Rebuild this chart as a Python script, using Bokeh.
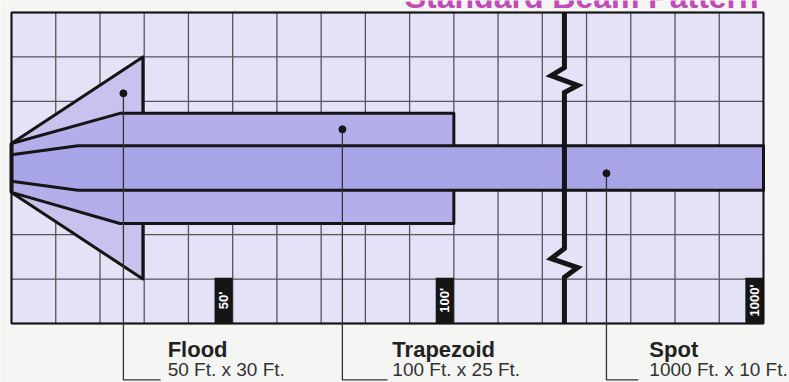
import math
from bokeh.plotting import figure
from bokeh.models import Range1d
from bokeh.core.properties import value
from bokeh.embed import file_html
from bokeh.resources import INLINE

# ---------------- data ----------------
n_cols = 17
n_rows = 7

title_text = "Standard Beam Pattern"

# beam outlines in grid units
flood_x = [0, 2.97, 2.97, 0]
flood_y = [4.05, 6.0, 1.0, 2.95]
trap_x = [0, 2.45, 10, 10, 2.45, 0]
trap_y = [4.05, 4.73, 4.73, 2.25, 2.25, 2.95]
spot_x = [0, 1.5, 17, 17, 1.5, 0]
spot_y = [3.8, 4.0, 4.0, 3.0, 3.0, 3.2]
source_y = [2.95, 4.05]

# scale break
break_x = [12.5, 12.5, 12.2, 12.8, 12.5, 12.5, 12.2, 12.8, 12.5, 12.5]
break_y = [7, 5.76, 5.58, 5.36, 5.2, 1.69, 1.46, 1.26, 1.04, 0]

# distance markers
marker_labels = ["50'", "100'", "1000'"]
marker_pos = [5, 10, 17]

# callouts
beam_names = ["Flood", "Trapezoid", "Spot"]
beam_sizes = ["50 Ft. x 30 Ft.", "100 Ft. x 25 Ft.", "1000 Ft. x 10 Ft."]
dot_x = [2.53, 7.48, 13.45]
dot_y = [5.18, 4.37, 3.38]
leader_end_x = [3.37, 8.5, 14.17]
label_x = [3.53, 8.61, 14.42]

# ---------------- styling ----------------
BG = "#f5f5f3"
CELL = "#e4e2f6"
FLOOD = "#c8c2ef"
TRAP = "#b4afeb"
SPOT = "#a7a4e7"
INK = "#151515"
GRIDC = "#55555c"
FONT = value("Liberation Sans")

p = figure(width=789, height=382,
           x_range=Range1d(-0.2487, 17.588), y_range=Range1d(-1.328, 7.270),
           x_axis_type=None, y_axis_type=None,
           output_backend="svg", toolbar_location=None, min_border=0)
p.grid.visible = False
p.outline_line_color = None
p.background_fill_color = BG
p.border_fill_color = BG

# title (only its lower edge is visible at the top of the picture)
p.text(x=[16.89], y=[7.36], text=[title_text], text_align="right", text_baseline="alphabetic",
       text_font=FONT, text_font_style="bold", text_font_size="32px", text_color="#c44ab8")

# grid background and lines
p.quad(left=[0], right=[n_cols], bottom=[0], top=[n_rows], fill_color=CELL, line_color=None)
vx = list(range(0, n_cols + 1))
p.segment(x0=vx, y0=[0] * len(vx), x1=vx, y1=[n_rows] * len(vx), line_color=GRIDC, line_width=1.3)
hy = list(range(0, n_rows + 1))
p.segment(x0=[0] * len(hy), y0=hy, x1=[n_cols] * len(hy), y1=hy, line_color=GRIDC, line_width=1.3)

# beams
p.patch(flood_x, flood_y, fill_color=FLOOD, line_color=INK, line_width=3, line_join="round")
p.patch(trap_x, trap_y, fill_color=TRAP, line_color=INK, line_width=3, line_join="round")
p.patch(spot_x, spot_y, fill_color=SPOT, line_color=INK, line_width=3, line_join="round")
p.line([0, 0], source_y, line_color=INK, line_width=4)

# outer border
p.quad(left=[0], right=[n_cols], bottom=[0], top=[n_rows], fill_color=None, line_color=INK, line_width=2)

# scale break
p.line(break_x, break_y, line_color=INK, line_width=5, line_join="miter")

# distance markers
bw = 0.41
p.quad(left=[m - bw for m in marker_pos], right=marker_pos,
       bottom=[0] * len(marker_pos), top=[1.03] * len(marker_pos),
       fill_color=INK, line_color=None)
p.text(x=[m - bw / 2 for m in marker_pos], y=[0.52] * len(marker_pos), text=marker_labels,
       angle=math.pi / 2, text_align="center", text_baseline="middle",
       text_color="white", text_font=FONT, text_font_style="bold", text_font_size="13px")

# callouts
leader_y = -1.27
for dx, dy, ex in zip(dot_x, dot_y, leader_end_x):
    p.line([dx, dx, ex], [dy, leader_y, leader_y], line_color="#333333", line_width=1.3)
p.scatter(dot_x, dot_y, size=7, color=INK)
p.text(x=label_x, y=[-0.585] * 3, text=beam_names, text_font=FONT, text_font_style="bold",
       text_font_size="22px", text_color="#222222", text_baseline="alphabetic")
p.text(x=label_x, y=[-1.03] * 3, text=beam_sizes, text_font=FONT,
       text_font_size="19px", text_color="#333333", text_baseline="alphabetic")

open("out.html", "w").write(file_html(p, INLINE))
